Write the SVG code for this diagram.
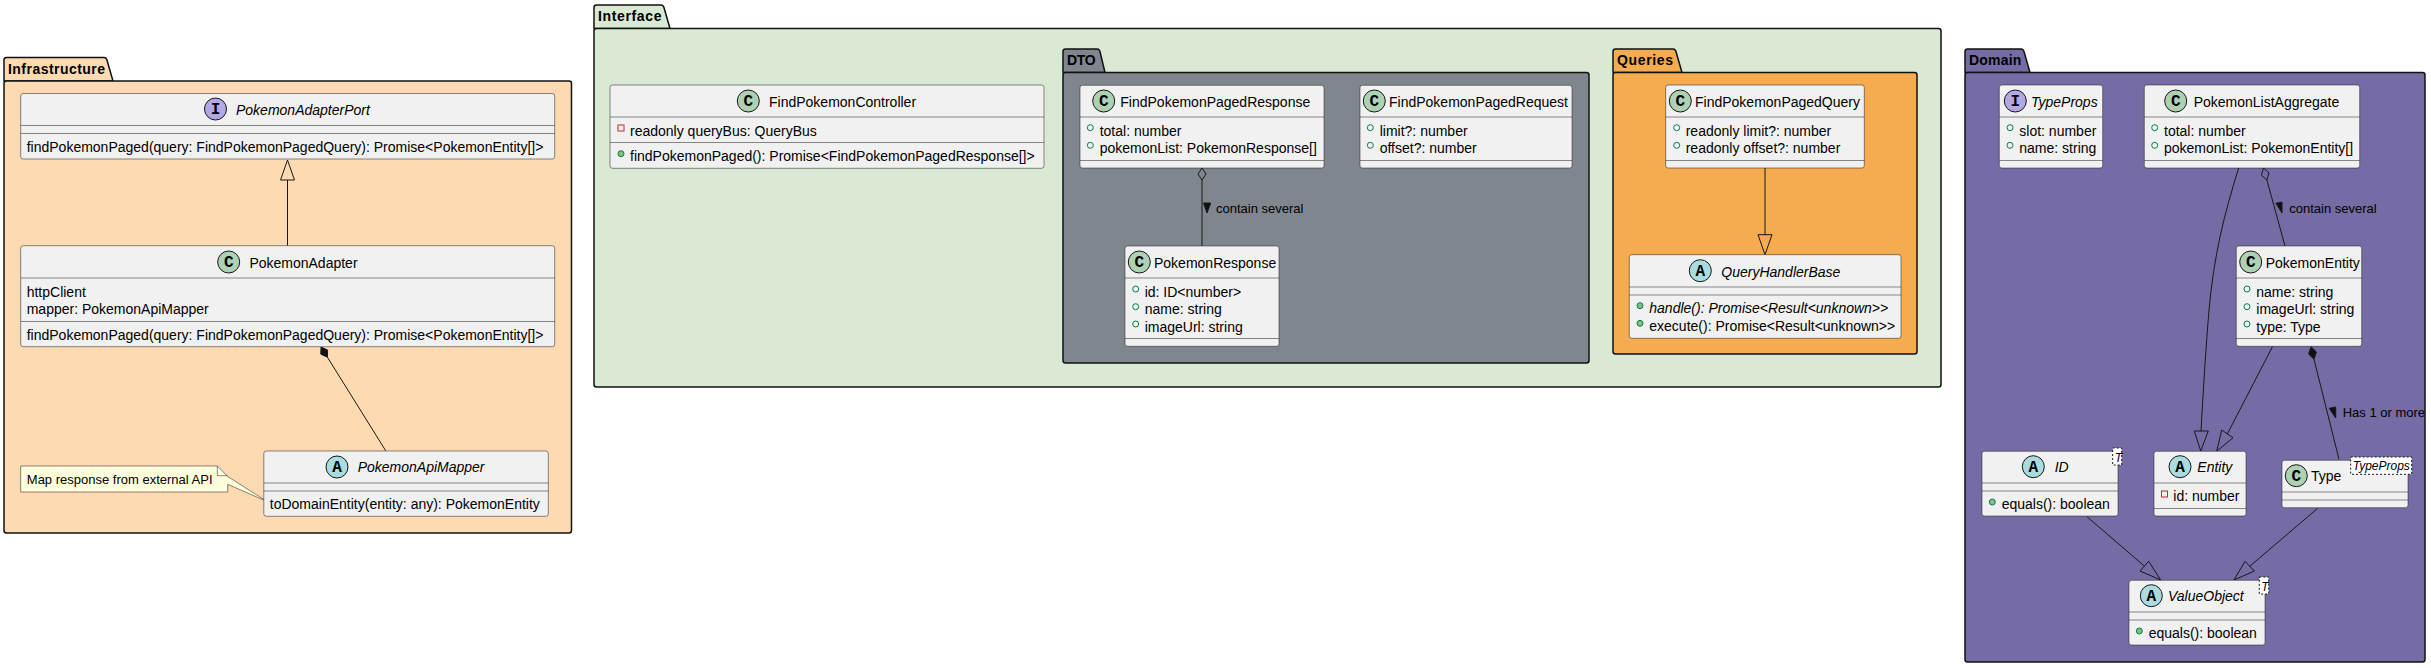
<svg xmlns="http://www.w3.org/2000/svg" width="2431" height="668" viewBox="0 0 2431 668">
<style>
text{font-family:"Liberation Sans",Arial,sans-serif;font-size:14px;fill:#000}
.pk{font-weight:bold;font-size:14px}
.i{font-style:italic}
.l{font-size:13px}
.g{font-size:12px;font-style:italic}
.b{fill:#F1F1F1;stroke:#181818;stroke-width:.5}
.s{stroke:#181818;stroke-width:.5;fill:none}
.p{stroke:#111;stroke-width:1.5;stroke-linejoin:round}
.c{stroke:#181818;stroke-width:1;fill:none}
.h{stroke:#181818;stroke-width:1;fill:none}
.k{fill:#111;stroke:#181818;stroke-width:1}
.cc{fill:#ADD1B2;stroke:#181818;stroke-width:1}
.ca{fill:#A9DCDF;stroke:#181818;stroke-width:1}
.ci{fill:#B4A7E5;stroke:#181818;stroke-width:1}
.m{font-family:"Liberation Mono",monospace;font-weight:bold;font-size:16px;text-anchor:middle}
.fo{fill:none;stroke:#038048}
.mp{fill:#84BE84;stroke:#038048}
.fv{fill:none;stroke:#C82930}
.gb{fill:#fff;stroke:#181818;stroke-width:1;stroke-dasharray:2 2}
.n{fill:#FEFFDD;stroke:#181818;stroke-width:.5}
</style>

<g id="pkg-Infrastructure">
<path class="p" fill="#FDDAB1" d="M4,81V60q0-2.5 2.5-2.5H104q2 0 2.8 2L113,81z"/>
<rect class="p" fill="#FDDAB1" x="4" y="81" width="567.5" height="452" rx="2.5"/>
<text class="pk" x="8" y="74" textLength="97">Infrastructure</text>
</g>
<g id="pkg-Interface">
<path class="p" fill="#D9E9D3" d="M594,28.5V7.5q0-2.5 2.5-2.5H661q2 0 2.8 2L670,28.5z"/>
<rect class="p" fill="#D9E9D3" x="594" y="28.5" width="1347" height="358.5" rx="2.5"/>
<text class="pk" x="598" y="21" textLength="63.5">Interface</text>
</g>
<g id="pkg-DTO">
<path class="p" fill="#7F868E" d="M1063,72.5V51.5q0-2.5 2.5-2.5H1097q2 0 2.8 2L1105,72.5z"/>
<rect class="p" fill="#7F868E" x="1063" y="72.5" width="526" height="290.5" rx="2.5"/>
<text class="pk" x="1067" y="65" textLength="28.7">DTO</text>
</g>
<g id="pkg-Queries">
<path class="p" fill="#F5AB4F" d="M1613,72.5V51.5q0-2.5 2.5-2.5H1673q2 0 2.8 2L1682,72.5z"/>
<rect class="p" fill="#F5AB4F" x="1613" y="72.5" width="304" height="281.5" rx="2.5"/>
<text class="pk" x="1617" y="65" textLength="56">Queries</text>
</g>
<g id="pkg-Domain">
<path class="p" fill="#756BA5" d="M1965,72.5V51.5q0-2.5 2.5-2.5H2021q2 0 2.8 2L2030,72.5z"/>
<rect class="p" fill="#756BA5" x="1965" y="72.5" width="460" height="589.5" rx="2.5"/>
<text class="pk" x="1969" y="65" textLength="52.3">Domain</text>
</g>

<g id="connectors">
<path class="c" d="M287.5,245.7V180"/>
<path class="h" d="M287.5,160L280.5,180H294.5z"/>
<path class="c" d="M327.4,357.2L385.7,450.7"/>
<path class="k" d="M321,347L327.6,350L327.4,357.2L320.8,354.2z"/>
<path class="c" d="M1202,180V246"/>
<path class="h" d="M1202,168L1206,174L1202,180L1198,174z"/>
<path class="k" d="M1203.5,203H1210.7L1207,213z"/>
<text class="l" x="1216" y="212.7">contain several</text>
<path class="c" d="M1765,168V235"/>
<path class="h" d="M1765,254.7L1758,234.7H1772z"/>
<path class="c" d="M2266.9,180L2285,246"/>
<path class="h" d="M2263.5,168L2269,172.9L2266.9,180L2261.4,175.1z"/>
<path class="k" d="M2276,203.3L2282,202V213z"/>
<text class="l" x="2289.3" y="212.7">contain several</text>
<path class="c" d="M2238.7,168C2224,215 2214,255 2209,310C2206,345 2203,395 2201,431"/>
<path class="h" d="M2200.7,451L2194.3,431H2208.3z"/>
<path class="c" d="M2272.7,346.3L2227.3,434"/>
<path class="h" d="M2216.7,451.3L2221.7,430L2233,437.7z"/>
<path class="c" d="M2314,359.3L2339,459.3"/>
<path class="k" d="M2311,346.7L2316.4,352L2314,359.3L2308.6,354z"/>
<path class="k" d="M2329.3,408.3L2335.7,407V418z"/>
<text class="l" x="2342.7" y="417.3">Has 1 or more</text>
<path class="c" d="M2087,516.7L2144.3,566"/>
<path class="h" d="M2160.7,580L2148.7,561.3L2140,571z"/>
<path class="c" d="M2317.7,508.3L2249.7,566.3"/>
<path class="h" d="M2234,580L2245,561.3L2254.3,571z"/>
</g>

<g id="note-mapper">
<path class="n" d="M20.7,466H217.3L227.7,476.5L267,501.5L227.7,484.3V492H20.7z"/>
<path class="s" d="M217.3,466V475.7H227.7"/>
<text class="l" x="26.8" y="484.3">Map response from external API</text>
</g>

<g id="PokemonAdapterPort">
<rect class="b" x="20.7" y="93.5" width="534" height="65.5" rx="2.5"/>
<path class="s" d="M20.7,125.5H554.7M20.7,133.5H554.7"/>
<circle class="ci" cx="215.5" cy="109" r="11"/><text class="m" x="215.5" y="114">I</text>
<text class="i" x="236" y="115">PokemonAdapterPort</text>
<text x="26.7" y="151.7">findPokemonPaged(query: FindPokemonPagedQuery): Promise&lt;PokemonEntity[]&gt;</text>
</g>
<g id="PokemonAdapter">
<rect class="b" x="20.7" y="245.7" width="534" height="101" rx="2.5"/>
<path class="s" d="M20.7,278H554.7M20.7,321.5H554.7"/>
<circle class="cc" cx="228.7" cy="262" r="11"/><text class="m" x="228.7" y="267">C</text>
<text x="249.4" y="267.7">PokemonAdapter</text>
<text x="26.7" y="296.7">httpClient</text>
<text x="26.7" y="314">mapper: PokemonApiMapper</text>
<text x="26.7" y="340">findPokemonPaged(query: FindPokemonPagedQuery): Promise&lt;PokemonEntity[]&gt;</text>
</g>
<g id="PokemonApiMapper">
<rect class="b" x="263.8" y="451" width="284.5" height="65.3" rx="2.5"/>
<path class="s" d="M263.8,483H548.3M263.8,491H548.3"/>
<circle class="ca" cx="337" cy="467" r="11"/><text class="m" x="337" y="472">A</text>
<text class="i" x="357.7" y="472.3">PokemonApiMapper</text>
<text x="269.8" y="509.3">toDomainEntity(entity: any): PokemonEntity</text>
</g>

<g id="FindPokemonController">
<rect class="b" x="610" y="85" width="434" height="83.3" rx="2.5"/>
<path class="s" d="M610,117H1044M610,142.5H1044"/>
<circle class="cc" cx="748.3" cy="101" r="11"/><text class="m" x="748.3" y="106">C</text>
<text x="769" y="106.7">FindPokemonController</text>
<rect class="fv" x="618" y="125" width="6" height="6"/>
<text x="630" y="135.7">readonly queryBus: QueryBus</text>
<circle class="mp" cx="621" cy="153.7" r="3"/>
<text x="630" y="161">findPokemonPaged(): Promise&lt;FindPokemonPagedResponse[]&gt;</text>
</g>
<g id="FindPokemonPagedResponse">
<rect class="b" x="1080" y="85.3" width="244" height="82.7" rx="2.5"/>
<path class="s" d="M1080,117H1324M1080,160.5H1324"/>
<circle class="cc" cx="1103.7" cy="101" r="11"/><text class="m" x="1103.7" y="106">C</text>
<text x="1120.3" y="106.7">FindPokemonPagedResponse</text>
<circle class="fo" cx="1090.3" cy="127.7" r="3"/>
<text x="1099.7" y="135.7">total: number</text>
<circle class="fo" cx="1090.3" cy="145.3" r="3"/>
<text x="1099.7" y="153.3">pokemonList: PokemonResponse[]</text>
</g>
<g id="FindPokemonPagedRequest">
<rect class="b" x="1360" y="85.3" width="212" height="82.7" rx="2.5"/>
<path class="s" d="M1360,117H1572M1360,160.5H1572"/>
<circle class="cc" cx="1374.3" cy="101" r="11"/><text class="m" x="1374.3" y="106">C</text>
<text x="1389" y="106.7">FindPokemonPagedRequest</text>
<circle class="fo" cx="1370.3" cy="127.7" r="3"/>
<text x="1379.7" y="135.7">limit?: number</text>
<circle class="fo" cx="1370.3" cy="145.3" r="3"/>
<text x="1379.7" y="153.3">offset?: number</text>
</g>
<g id="PokemonResponse">
<rect class="b" x="1125" y="246" width="154" height="100.3" rx="2.5"/>
<path class="s" d="M1125,278H1279M1125,338.5H1279"/>
<circle class="cc" cx="1139.3" cy="262" r="11"/><text class="m" x="1139.3" y="267">C</text>
<text x="1154" y="268">PokemonResponse</text>
<circle class="fo" cx="1135.7" cy="289" r="3"/>
<text x="1144.7" y="296.7">id: ID&lt;number&gt;</text>
<circle class="fo" cx="1135.7" cy="306.7" r="3"/>
<text x="1144.7" y="314.3">name: string</text>
<circle class="fo" cx="1135.7" cy="324" r="3"/>
<text x="1144.7" y="331.7">imageUrl: string</text>
</g>
<g id="FindPokemonPagedQuery">
<rect class="b" x="1665.7" y="85" width="198.6" height="83" rx="2.5"/>
<path class="s" d="M1665.7,117H1864.3M1665.7,160.5H1864.3"/>
<circle class="cc" cx="1680.3" cy="101" r="11"/><text class="m" x="1680.3" y="106">C</text>
<text x="1695" y="106.7">FindPokemonPagedQuery</text>
<circle class="fo" cx="1676.7" cy="127.7" r="3"/>
<text x="1685.7" y="135.7">readonly limit?: number</text>
<circle class="fo" cx="1676.7" cy="145.3" r="3"/>
<text x="1685.7" y="153.3">readonly offset?: number</text>
</g>
<g id="QueryHandlerBase">
<rect class="b" x="1629.3" y="254.7" width="271.7" height="83.6" rx="2.5"/>
<path class="s" d="M1629.3,287H1901M1629.3,295H1901"/>
<circle class="ca" cx="1700.3" cy="270.7" r="11"/><text class="m" x="1700.3" y="275.7">A</text>
<text class="i" x="1721.3" y="276.7">QueryHandlerBase</text>
<circle class="mp" cx="1640" cy="305.7" r="3"/>
<text class="i" x="1649.3" y="313.3">handle(): Promise&lt;Result&lt;unknown&gt;&gt;</text>
<circle class="mp" cx="1640" cy="323.3" r="3"/>
<text x="1649.3" y="331">execute(): Promise&lt;Result&lt;unknown&gt;&gt;</text>
</g>

<g id="TypeProps">
<rect class="b" x="1999.3" y="85" width="103.4" height="83" rx="2.5"/>
<path class="s" d="M1999.3,117H2102.7M1999.3,160.5H2102.7"/>
<circle class="ci" cx="2015.3" cy="101" r="11"/><text class="m" x="2015.3" y="106">I</text>
<text class="i" x="2031" y="106.7">TypeProps</text>
<circle class="fo" cx="2010" cy="127.7" r="3"/>
<text x="2019.3" y="135.7">slot: number</text>
<circle class="fo" cx="2010" cy="145.3" r="3"/>
<text x="2019.3" y="153.3">name: string</text>
</g>
<g id="PokemonListAggregate">
<rect class="b" x="2144.3" y="85" width="215.4" height="83" rx="2.5"/>
<path class="s" d="M2144.3,117H2359.7M2144.3,160.5H2359.7"/>
<circle class="cc" cx="2175.7" cy="101" r="11"/><text class="m" x="2175.7" y="106">C</text>
<text x="2193.7" y="106.7">PokemonListAggregate</text>
<circle class="fo" cx="2154.7" cy="127.7" r="3"/>
<text x="2164" y="135.7">total: number</text>
<circle class="fo" cx="2154.7" cy="145.3" r="3"/>
<text x="2164" y="153.3">pokemonList: PokemonEntity[]</text>
</g>
<g id="PokemonEntity">
<rect class="b" x="2236.3" y="246" width="125.4" height="100.3" rx="2.5"/>
<path class="s" d="M2236.3,278H2361.7M2236.3,338.5H2361.7"/>
<circle class="cc" cx="2250.7" cy="262" r="11"/><text class="m" x="2250.7" y="267">C</text>
<text x="2265.7" y="268">PokemonEntity</text>
<circle class="fo" cx="2247" cy="289" r="3"/>
<text x="2256.3" y="296.7">name: string</text>
<circle class="fo" cx="2247" cy="306.7" r="3"/>
<text x="2256.3" y="314.3">imageUrl: string</text>
<circle class="fo" cx="2247" cy="324" r="3"/>
<text x="2256.3" y="331.7">type: Type</text>
</g>
<g id="ID">
<rect class="b" x="1982" y="451.3" width="136" height="64.7" rx="2.5"/>
<path class="s" d="M1982,483H2118M1982,491H2118"/>
<circle class="ca" cx="2033.3" cy="466.7" r="11"/><text class="m" x="2033.3" y="471.7">A</text>
<text class="i" x="2054.7" y="472.3">ID</text>
<circle class="mp" cx="1992.3" cy="502" r="3"/>
<text x="2001.7" y="509.3">equals(): boolean</text>
<rect class="gb" x="2112.7" y="448" width="9" height="17"/>
<text class="g" x="2114.7" y="461.7">T</text>
</g>
<g id="Entity">
<rect class="b" x="2154" y="451.3" width="92" height="64.7" rx="2.5"/>
<path class="s" d="M2154,483H2246M2154,508.5H2246"/>
<circle class="ca" cx="2180" cy="466.7" r="11"/><text class="m" x="2180" y="471.7">A</text>
<text class="i" x="2197.3" y="472.3">Entity</text>
<rect class="fv" x="2161.5" y="491" width="6" height="6"/>
<text x="2173.3" y="501.3">id: number</text>
</g>
<g id="Type">
<rect class="b" x="2282" y="460.3" width="126" height="47.4" rx="2.5"/>
<path class="s" d="M2282,492H2408M2282,500H2408"/>
<circle class="cc" cx="2296.3" cy="475.7" r="11"/><text class="m" x="2296.3" y="480.7">C</text>
<text x="2311" y="481.3">Type</text>
<rect class="gb" x="2350.7" y="457" width="61" height="17.3"/>
<text class="g" x="2352.7" y="470.3">TypeProps</text>
</g>
<g id="ValueObject">
<rect class="b" x="2129" y="580.3" width="136" height="64.7" rx="2.5"/>
<path class="s" d="M2129,612H2265M2129,620H2265"/>
<circle class="ca" cx="2151.3" cy="595.7" r="11"/><text class="m" x="2151.3" y="600.7">A</text>
<text class="i" x="2168" y="601.3">ValueObject</text>
<circle class="mp" cx="2139.3" cy="631" r="3"/>
<text x="2148.7" y="638.3">equals(): boolean</text>
<rect class="gb" x="2259.3" y="577" width="9.4" height="17"/>
<text class="g" x="2261.3" y="590.7">T</text>
</g>
</svg>
